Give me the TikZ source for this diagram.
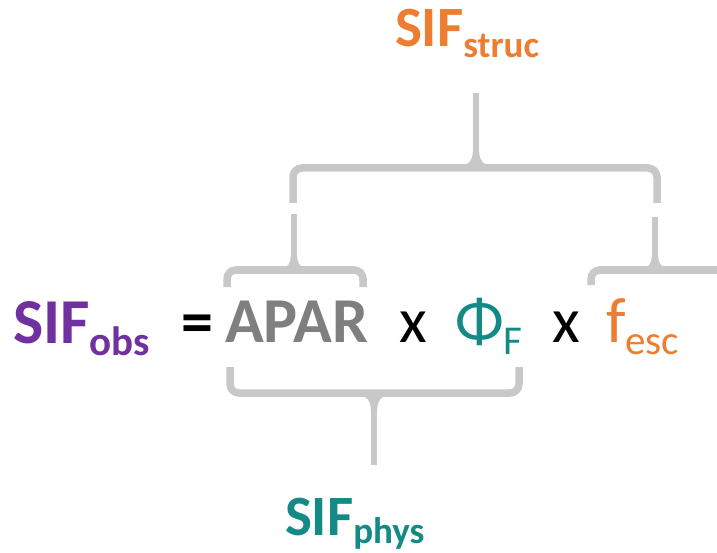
\documentclass[tikz,border=0pt]{standalone}
\usepackage{fontspec}
\setmainfont{Carlito}
\definecolor{cpurple}{HTML}{7030A0}
\definecolor{corange}{HTML}{ED7D31}
\definecolor{cteal}{HTML}{138A86}
\definecolor{cgraytxt}{HTML}{7F7F7F}
\definecolor{cbrack}{HTML}{C8C8C8}
\newcommand\bigsub[1]{\raisebox{-12pt}{\fontsize{41}{41}\selectfont #1}}
\newcommand\smallsub[1]{\raisebox{-11pt}{\fontsize{37}{37}\selectfont #1}}
\newcommand\lowsub[1]{\raisebox{-8pt}{\fontsize{37}{37}\selectfont #1}}
\tikzset{
  lbl/.style={anchor=base west, inner sep=0pt, outer sep=0pt},
  mainsz/.style={font=\fontsize{64}{76}\selectfont},
  sidesz/.style={font=\fontsize{57}{68}\selectfont\bfseries},
  brack/.style={draw=cbrack, line width=7.5pt, rounded corners=9pt, line cap=butt},
  flare/.style={fill=cbrack, draw=none}
}
\begin{document}
\begin{tikzpicture}[x=1pt,y=-1pt]
\useasboundingbox (0,0) rectangle (717,553);
% equation
\node[lbl, mainsz, text=cpurple] (obs) at (13,343) {\bfseries SIF\bigsub{obs}};
\node[lbl, mainsz] (eq) at (181,343) {\bfseries =};
\node[lbl, mainsz, text=cgraytxt] (apar) at (225,342) {\bfseries APAR};
\node[lbl, mainsz] (x1) at (399,342) {x};
\node[lbl, mainsz, text=cteal] (phi) at (455,342) {Φ\bigsub{F}};
\node[lbl, mainsz] (x2) at (552,342) {x};
\node[lbl, mainsz, text=corange] (fesc) at (606,342) {f\bigsub{esc}};
% labels
\node[lbl, sidesz, text=corange] (struc) at (395,47) {SIF\smallsub{struc}};
\node[lbl, sidesz, text=cteal] (phys) at (285,535) {SIF\lowsub{phys}};
% coordinates for brackets
\coordinate (tS) at (476,93);
\coordinate (tJ) at (476,168);
\coordinate (tL) at (293,203);
\coordinate (tR) at (657,203);
\coordinate (lS) at (294,214);
\coordinate (lJ) at (294,270);
\coordinate (lL) at (227,287);
\coordinate (lR) at (363,287);
\coordinate (rS) at (655,217);
\coordinate (rJ) at (655,270);
\coordinate (rL) at (591,285);
\coordinate (rR) at (730,270);
\coordinate (bS) at (374,465);
\coordinate (bJ) at (374,393);
\coordinate (bL) at (230,367);
\coordinate (bR) at (519,367);
% top bracket
\draw[brack] (tL) |- (tJ) -| (tR);
\draw[brack, line width=6.5pt] (tS) -- (tJ);
\fill[flare] ([xshift=-3.25pt,yshift=16pt]tJ) .. controls +(0,8) and +(4,0) .. ([xshift=-12pt,yshift=3pt]tJ) -- ([xshift=12pt,yshift=3pt]tJ) .. controls +(-4,0) and +(0,8) .. ([xshift=3.25pt,yshift=16pt]tJ) -- cycle;
% left middle bracket
\draw[brack] (lL) |- (lJ) -| (lR);
\draw[brack, line width=6.5pt] (lS) -- (lJ);
\fill[flare] ([xshift=-3.25pt,yshift=14pt]lJ) .. controls +(0,7) and +(4,0) .. ([xshift=-10pt,yshift=3pt]lJ) -- ([xshift=10pt,yshift=3pt]lJ) .. controls +(-4,0) and +(0,7) .. ([xshift=3.25pt,yshift=14pt]lJ) -- cycle;
% right middle bracket
\draw[brack] (rL) |- (rR);
\draw[brack, line width=6.5pt] (rS) -- (rJ);
\fill[flare] ([xshift=-3.25pt,yshift=14pt]rJ) .. controls +(0,7) and +(4,0) .. ([xshift=-10pt,yshift=3pt]rJ) -- ([xshift=10pt,yshift=3pt]rJ) .. controls +(-4,0) and +(0,7) .. ([xshift=3.25pt,yshift=14pt]rJ) -- cycle;
% bottom bracket
\draw[brack] (bL) |- (bJ) -| (bR);
\draw[brack, line width=6.5pt] (bJ) -- (bS);
\fill[flare] ([xshift=-3.25pt,yshift=-16pt]bJ) .. controls +(0,-8) and +(4,0) .. ([xshift=-12pt,yshift=-3pt]bJ) -- ([xshift=12pt,yshift=-3pt]bJ) .. controls +(-4,0) and +(0,-8) .. ([xshift=3.25pt,yshift=-16pt]bJ) -- cycle;
\end{tikzpicture}
\end{document}
